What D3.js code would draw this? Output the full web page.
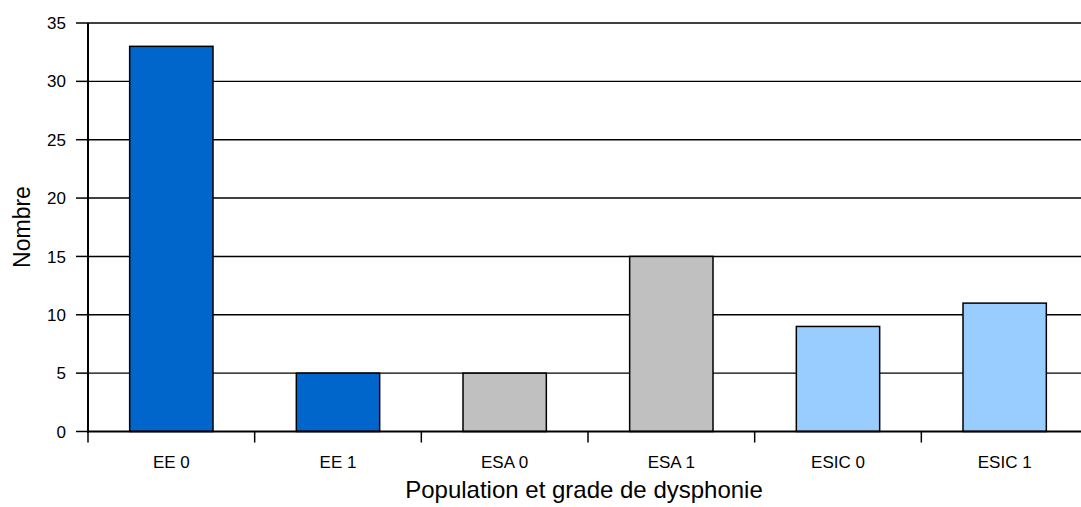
<!DOCTYPE html>
<html>
<head>
<meta charset="utf-8">
<script src="https://cdn.jsdelivr.net/npm/d3@7"></script>
<style>
  html, body { margin: 0; padding: 0; background: #fff; }
  svg { display: block; font-family: Arial, "Liberation Sans", sans-serif; }
</style>
</head>
<body>
<svg id="chart" width="1081" height="507"></svg>
<script>
// Counts per population and dysphonia grade
const categories = ["EE 0", "EE 1", "ESA 0", "ESA 1", "ESIC 0", "ESIC 1"];
const counts = [33, 5, 5, 15, 9, 11];
const groupOf = ["EE", "EE", "ESA", "ESA", "ESIC", "ESIC"];
const groupColors = { EE: "#0066CC", ESA: "#C0C0C0", ESIC: "#99CCFF" };
const yTicks = [0, 5, 10, 15, 20, 25, 30, 35];

const svg = d3.select("#chart");
const plot = { left: 88, right: 1088, top: 23, bottom: 431.5 };

const x = d3.scaleBand().domain(categories).range([plot.left, plot.right]).padding(0);
const y = d3.scaleLinear().domain([0, 35]).range([plot.bottom, plot.top]);

// Horizontal gridlines
svg.append("g")
  .selectAll("line")
  .data(yTicks.filter(t => t > 0))
  .join("line")
  .attr("x1", plot.left).attr("x2", plot.right)
  .attr("y1", d => y(d)).attr("y2", d => y(d))
  .attr("stroke", "#000").attr("stroke-width", 1.4);

// Bars
const barW = x.bandwidth() * 0.5;
svg.append("g")
  .selectAll("rect")
  .data(categories.map((c, i) => ({ c, v: counts[i], g: groupOf[i] })))
  .join("rect")
  .attr("x", d => x(d.c) + (x.bandwidth() - barW) / 2)
  .attr("width", barW)
  .attr("y", d => y(d.v))
  .attr("height", d => y(0) - y(d.v))
  .attr("fill", d => groupColors[d.g])
  .attr("stroke", "#000").attr("stroke-width", 1.5);

// Y axis
const yAxis = svg.append("g");
yAxis.append("line")
  .attr("x1", plot.left).attr("x2", plot.left)
  .attr("y1", plot.top).attr("y2", plot.bottom + 1)
  .attr("stroke", "#000").attr("stroke-width", 2);
yAxis.selectAll("line.tick")
  .data(yTicks)
  .join("line").attr("class", "tick")
  .attr("x1", plot.left - 12).attr("x2", plot.left)
  .attr("y1", d => y(d)).attr("y2", d => y(d))
  .attr("stroke", "#000").attr("stroke-width", 1.5);
yAxis.selectAll("text")
  .data(yTicks)
  .join("text")
  .attr("x", plot.left - 22).attr("y", d => y(d))
  .attr("dy", "0.36em")
  .attr("text-anchor", "end")
  .attr("font-size", 17)
  .text(d => d);

// X axis
const xAxis = svg.append("g");
xAxis.append("line")
  .attr("x1", plot.left - 1).attr("x2", plot.right)
  .attr("y1", plot.bottom).attr("y2", plot.bottom)
  .attr("stroke", "#000").attr("stroke-width", 2);
const boundaries = categories.map(c => x(c)).concat([plot.right]);
xAxis.selectAll("line.tick")
  .data(boundaries)
  .join("line").attr("class", "tick")
  .attr("x1", d => d).attr("x2", d => d)
  .attr("y1", plot.bottom).attr("y2", plot.bottom + 11)
  .attr("stroke", "#000").attr("stroke-width", 1.5);
xAxis.selectAll("text")
  .data(categories)
  .join("text")
  .attr("x", d => x(d) + x.bandwidth() / 2)
  .attr("y", 468)
  .attr("text-anchor", "middle")
  .attr("font-size", 17)
  .text(d => d);

// Axis titles
svg.append("text")
  .attr("x", 584).attr("y", 498)
  .attr("text-anchor", "middle")
  .attr("font-size", 24)
  .text("Population et grade de dysphonie");

svg.append("text")
  .attr("transform", `translate(30, 227) rotate(-90)`)
  .attr("text-anchor", "middle")
  .attr("font-size", 23)
  .text("Nombre");
</script>
</body>
</html>
